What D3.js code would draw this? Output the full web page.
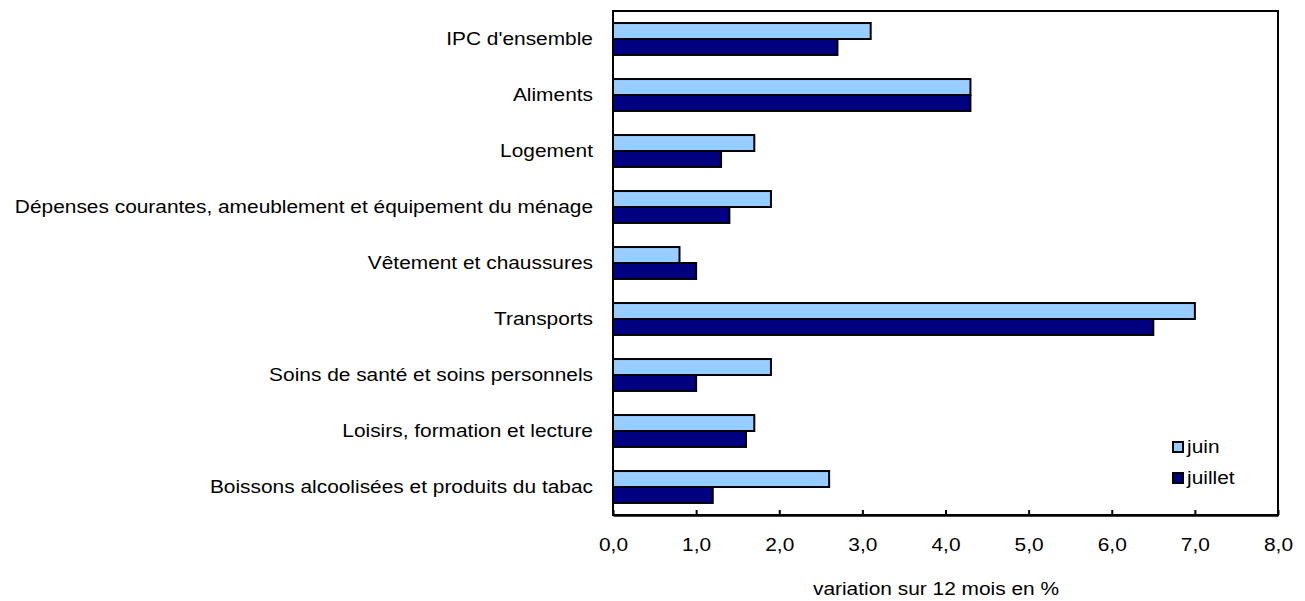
<!DOCTYPE html>
<html lang="fr">
<head>
<meta charset="utf-8">
<style>
body {
  margin: 0;
  background: #fff;
}
svg text {
  font-family: "Liberation Sans", Arial, Helvetica, sans-serif;
  font-size: 18.5px;
  fill: #000;
}
</style>
</head>
<body>
<script src="https://cdn.jsdelivr.net/npm/d3@7"></script>
<script>

var width = 1305,
    height = 601;

var categories = [
  "IPC d'ensemble",
  "Aliments",
  "Logement",
  "Dépenses courantes, ameublement et équipement du ménage",
  "Vêtement et chaussures",
  "Transports",
  "Soins de santé et soins personnels",
  "Loisirs, formation et lecture",
  "Boissons alcoolisées et produits du tabac"
];
var juin    = [3.1, 4.3, 1.7, 1.9, 0.8, 7.0, 1.9, 1.7, 2.6];
var juillet = [2.7, 4.3, 1.3, 1.4, 1.0, 6.5, 1.0, 1.6, 1.2];
var seriesNames = ["juin", "juillet"];
var seriesColors = ["#99ccff", "#000080"];
var tickValues = [0, 1, 2, 3, 4, 5, 6, 7, 8];
var axisTitle = "variation sur 12 mois en %";

var plot = {left: 613, right: 1278, top: 11, bottom: 515};
var stretch = 1.13; // text in the original is slightly wide

var x = d3.scaleLinear()
    .domain([0, 8])
    .range([plot.left, plot.right]);

var y = d3.scaleBand()
    .domain(categories)
    .range([plot.top, plot.bottom])
    .paddingInner(0.43)
    .paddingOuter(0.215);

var ySub = d3.scaleBand()
    .domain(seriesNames)
    .range([0, y.bandwidth()]);

var fmt = function(v) { return d3.format(".1f")(v).replace(".", ","); };

function place(px, py) {
  return "translate(" + px + "," + py + ") scale(" + stretch + ",1)";
}

var svg = d3.select("body").append("svg")
    .attr("width", width)
    .attr("height", height);

// bars
var rows = categories.map(function(c, i) {
  return {cat: c, values: [juin[i], juillet[i]]};
});

var g = svg.selectAll("g.row")
    .data(rows)
    .enter().append("g")
    .attr("class", "row")
    .attr("transform", function(d) { return "translate(0," + y(d.cat) + ")"; });

g.selectAll("rect")
    .data(function(d) { return d.values.map(function(v, j) { return {v: v, s: seriesNames[j], j: j}; }); })
    .enter().append("rect")
    .attr("x", x(0))
    .attr("y", function(d) { return ySub(d.s); })
    .attr("width", function(d) { return x(d.v) - x(0); })
    .attr("height", ySub.bandwidth())
    .attr("fill", function(d) { return seriesColors[d.j]; })
    .attr("stroke", "#000")
    .attr("stroke-width", 2);

// category labels
svg.selectAll("text.cat")
    .data(categories)
    .enter().append("text")
    .attr("class", "cat")
    .attr("transform", function(d) { return place(plot.left - 20, y(d) + y.bandwidth() / 2); })
    .attr("dy", "0.35em")
    .attr("text-anchor", "end")
    .text(function(d) { return d; });

// frame
svg.append("rect")
    .attr("x", plot.left)
    .attr("y", plot.top)
    .attr("width", plot.right - plot.left)
    .attr("height", plot.bottom - plot.top)
    .attr("fill", "none")
    .attr("stroke", "#000")
    .attr("stroke-width", 2);

// x axis
var xAxis = d3.axisBottom(x)
    .tickValues(tickValues)
    .tickSizeInner(-5)
    .tickSizeOuter(0)
    .tickPadding(23)
    .tickFormat(fmt);

var ax = svg.append("g")
    .attr("transform", "translate(0," + plot.bottom + ")")
    .call(xAxis);
ax.attr("font-family", null).attr("font-size", null);
ax.select(".domain").attr("stroke-width", 2.5);
ax.selectAll(".tick line").attr("stroke-width", 2);
ax.selectAll(".tick text")
    .attr("transform", "scale(" + stretch + ",1)");

svg.append("text")
    .attr("transform", place(936, 595))
    .attr("text-anchor", "middle")
    .text(axisTitle);

// legend
var leg = svg.selectAll("g.leg")
    .data(seriesNames)
    .enter().append("g")
    .attr("class", "leg")
    .attr("transform", function(d, i) { return "translate(1173," + (442 + i * 31) + ")"; });

leg.append("rect")
    .attr("width", 10)
    .attr("height", 10)
    .attr("fill", function(d, i) { return seriesColors[i]; })
    .attr("stroke", "#000")
    .attr("stroke-width", 2);

leg.append("text")
    .attr("transform", place(14, 11))
    .text(function(d) { return d; });

</script>
</body>
</html>
